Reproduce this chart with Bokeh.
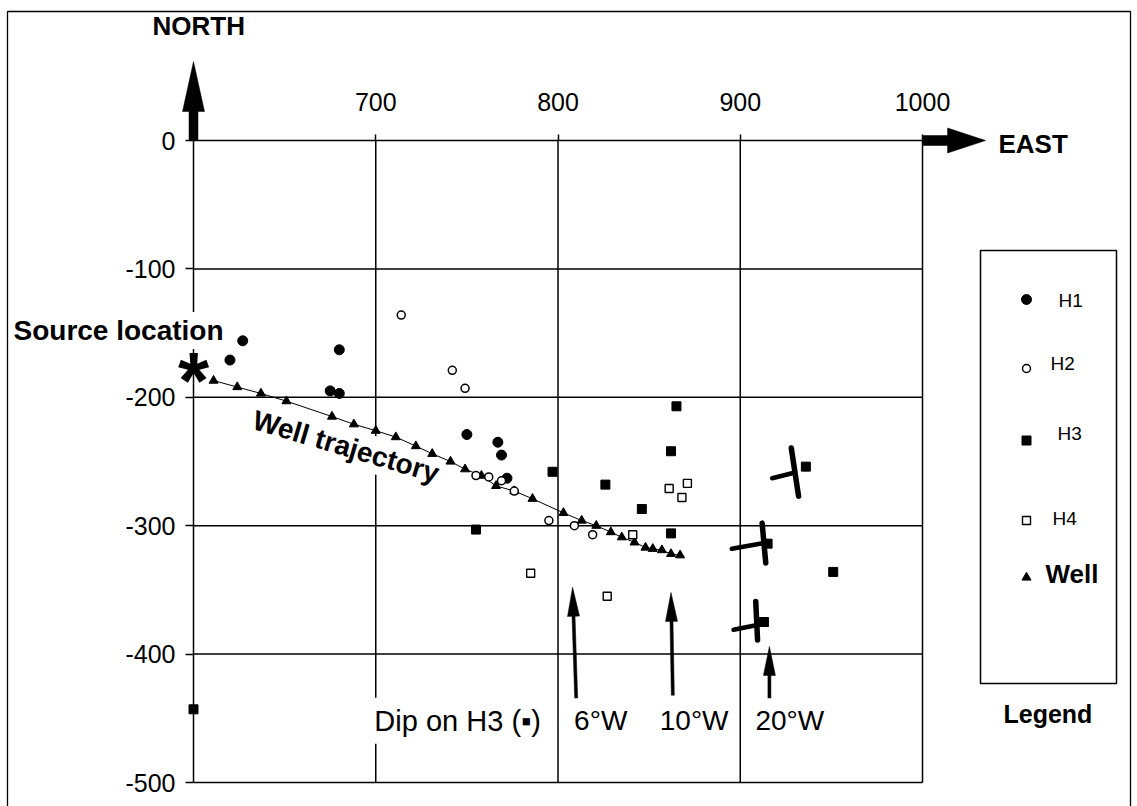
import numpy as np
from bokeh.plotting import figure
from bokeh.models import LinearAxis, FixedTicker, Range1d
from bokeh.core.properties import value
from bokeh.embed import file_html
from bokeh.resources import INLINE

# ---------------- data (East / North, m) ----------------
x_ticks = [700, 800, 900, 1000]
y_ticks = [0, -100, -200, -300, -400, -500]
x_grid = [600, 700, 800, 900, 1000]
y_grid = [0, -100, -200, -300, -400, -500]

source_x = [600]
source_y = [-180]

h1_x = [627, 620, 680, 675, 680, 750, 767, 769, 772]
h1_y = [-156, -171, -163, -195, -197, -229, -235, -245, -263]

h2_x = [714, 742, 749, 755, 762, 769, 776, 795, 809, 819]
h2_y = [-136, -179, -193, -261, -262, -265, -273, -296, -300, -307]

h3_x = [600, 755, 797, 826, 846, 862, 862, 865, 936, 951, 915, 913]
h3_y = [-443, -303, -258, -268, -287, -242, -306, -207, -254, -336, -314, -375]

h4_x = [785, 827, 841, 861, 871, 868]
h4_y = [-337, -355, -307, -271, -267, -278]

well_x = [611, 624, 637, 651, 676, 688, 700, 711, 722, 731, 741, 749, 758, 766,
          776, 786, 803, 813, 821, 829, 835, 842, 848, 852, 857, 862, 867]
well_y = [-187, -192, -197, -203, -215, -221, -226, -231, -238, -244, -250, -256, -261, -269,
          -273, -279, -290, -296, -300, -305, -309, -313, -317, -318, -319, -322, -323]

# dips on H3: arrows and hand-drawn strike/dip symbols
dip_labels = ["6°W", "10°W", "20°W"]
dip_label_x = [805, 852, 904.5]
dip_arrow_x0 = [810, 863, 916]
dip_arrow_y0 = [-435, -432, -437]
dip_arrow_x1 = [808, 862, 916]
dip_arrow_y1 = [-348, -352, -394]
strike_xs = [[928, 932], [912, 914], [908.5, 909.5]]
strike_ys = [[-239.5, -277], [-298, -329], [-359, -389]]
dipdir_xs = [[917.5, 929], [895.4, 912.3], [896.3, 909.4]]
dipdir_ys = [[-263, -259], [-318, -313.7], [-381, -377.3]]

legend_labels = ["H1", "H2", "H3", "H4"]

# ---------------- layout ----------------
W, H = 1137, 806
SX, SY = 1.8225, 1.284          # px per metre
X0 = 600 - 193 / SX
X1 = X0 + W / SX
Y1 = 140 / SY
Y0 = Y1 - H / SY


def dx(px):  # page pixel -> data x
    return X0 + px / SX


def dy(py):  # page pixel -> data y
    return Y1 - py / SY


FONT = value("Liberation Sans")

p = figure(width=W, height=H, x_range=Range1d(X0, X1), y_range=Range1d(Y0, Y1),
           output_backend="svg", toolbar_location=None,
           x_axis_type=None, y_axis_type=None, min_border=0)
p.outline_line_color = None
p.background_fill_color = "white"
p.border_fill_color = "white"

# axes
xa = LinearAxis(ticker=FixedTicker(ticks=x_ticks), fixed_location=0)
ya = LinearAxis(ticker=FixedTicker(ticks=y_ticks), fixed_location=600,
                major_label_overrides={t: str(t) for t in y_ticks})
for ax, out, so in ((xa, 6, 24), (ya, 8, 10)):
    ax.axis_line_color = None
    ax.major_tick_in = 0
    ax.major_tick_out = out
    ax.major_tick_line_width = 1.5
    ax.major_tick_line_color = "black"
    ax.minor_tick_line_color = None
    ax.major_label_standoff = so
    ax.major_label_text_font = "Liberation Sans"
    ax.major_label_text_font_size = "25px"
    ax.major_label_text_color = "black"
p.add_layout(xa, "above")
p.add_layout(ya, "left")

# page border (top, left, right)
bl, br, bt = dx(7), dx(1130), dy(11)
p.line([bl, bl, br, br], [Y0, bt, bt, Y0], line_color="black", line_width=1.3)

# grid
p.segment(x0=x_grid, y0=[min(y_grid)] * len(x_grid), x1=x_grid, y1=[max(y_grid)] * len(x_grid),
          line_color="black", line_width=1.5)
p.segment(x0=[min(x_grid)] * len(y_grid), y0=y_grid, x1=[max(x_grid)] * len(y_grid), y1=y_grid,
          line_color="black", line_width=1.5)


def arrow_poly(xa_, ya_, xb_, yb_, shaft, hlen, hw):
    a = np.array([xa_ * SX, ya_ * SY])
    b = np.array([xb_ * SX, yb_ * SY])
    d = b - a
    u = d / np.hypot(*d)
    n = np.array([-u[1], u[0]])
    base = b - u * hlen
    pts = [a + n * shaft / 2, base + n * shaft / 2, base + n * hw / 2, b,
           base - n * hw / 2, base - n * shaft / 2, a - n * shaft / 2]
    return [q[0] / SX for q in pts], [q[1] / SY for q in pts]


arr_xs, arr_ys = [], []
for args in [(600, 0, 600, 61.5, 9, 50, 22), (1000, 0, 1034.6, 0, 10, 38, 25)]:
    ax_, ay_ = arrow_poly(*args)
    arr_xs.append(ax_)
    arr_ys.append(ay_)
for x0, y0, x1, y1 in zip(dip_arrow_x0, dip_arrow_y0, dip_arrow_x1, dip_arrow_y1):
    ax_, ay_ = arrow_poly(x0, y0, x1, y1, 3, 29, 12)
    arr_xs.append(ax_)
    arr_ys.append(ay_)
p.patches(arr_xs, arr_ys, fill_color="black", line_color="black", line_width=0.5)

# texts with white backgrounds (they break the grid lines)
bold = dict(text_font=FONT, text_font_style="bold", text_color="black",
            text_baseline="middle", text_align="left")
p.text(x=[dx(152)], y=[dy(25)], text=["NORTH"], text_font_size="26px", **bold)
p.text(x=[dx(998)], y=[-2.6], text=["EAST"], text_font_size="26px", **bold)
p.text(x=[dx(10)], y=[-148], text=["Source location"], text_font_size="28px",
       background_fill_color="white", padding=3, **bold)
p.text(x=[631.5], y=[-216.5], text=["Well trajectory"], angle=[np.deg2rad(-16.5)],
       text_font_size="28px", background_fill_color="white", padding=3, **bold)
p.text(x=[dx(1003)], y=[dy(713)], text=["Legend"], text_font_size="25px", **bold)

reg = dict(text_font=FONT, text_color="black", text_baseline="middle", text_align="left")
p.text(x=[695.4], y=[-452], text=["Dip on H3 (▪)"],
       text_font_size="29px", background_fill_color="white", padding=7, **reg)
p.text(x=dip_label_x, y=[-452] * 3, text=dip_labels,
       text_font_size="28px", background_fill_color="white", padding=7, **reg)

# well trajectory line and data
p.line(well_x, well_y, line_color="black", line_width=1)
p.multi_line(strike_xs, strike_ys, line_color="black", line_width=5.5, line_cap="round")
p.multi_line(dipdir_xs, dipdir_ys, line_color="black", line_width=4.5, line_cap="round")

sty = {
    "H1": dict(marker="circle", size=10, fill_color="black", line_color="black"),
    "H2": dict(marker="circle", size=8, fill_color="white", line_color="black", line_width=1.5),
    "H3": dict(marker="square", size=9, fill_color="black", line_color="black"),
    "H4": dict(marker="square", size=8, fill_color="white", line_color="black", line_width=1.4),
    "Well": dict(marker="triangle", size=9, fill_color="black", line_color="black"),
}
p.scatter(well_x, well_y, **sty["Well"])
p.scatter(h1_x, h1_y, **sty["H1"])
p.scatter(h2_x, h2_y, **sty["H2"])
p.scatter(h3_x, h3_y, **sty["H3"])
p.scatter(h4_x, h4_y, **sty["H4"])

# source location asterisk
p.text(x=source_x, y=source_y, text=["*"], text_font_size="80px", text_align="center",
       y_offset=[9], text_font=FONT, text_font_style="bold", text_color="black",
       text_baseline="middle")

# legend box (manual)
p.quad(left=[dx(980)], right=[dx(1116)], top=[dy(250)], bottom=[dy(683)],
       fill_color=None, line_color="black", line_width=1.5)
leg_mx = dx(1026)
leg_my = [dy(299), dy(368), dy(440), dy(520), dy(577)]
for name, my in zip(legend_labels + ["Well"], leg_my):
    p.scatter([leg_mx], [my], **sty[name])
p.text(x=[dx(1058), dx(1050), dx(1057), dx(1052)],
       y=[dy(300), dy(363), dy(433), dy(518)], text=legend_labels,
       text_font_size="19px", **reg)
p.text(x=[dx(1045)], y=[dy(573)], text=["Well"], text_font_size="26px", **bold)

open("out.html", "w").write(file_html(p, INLINE))
